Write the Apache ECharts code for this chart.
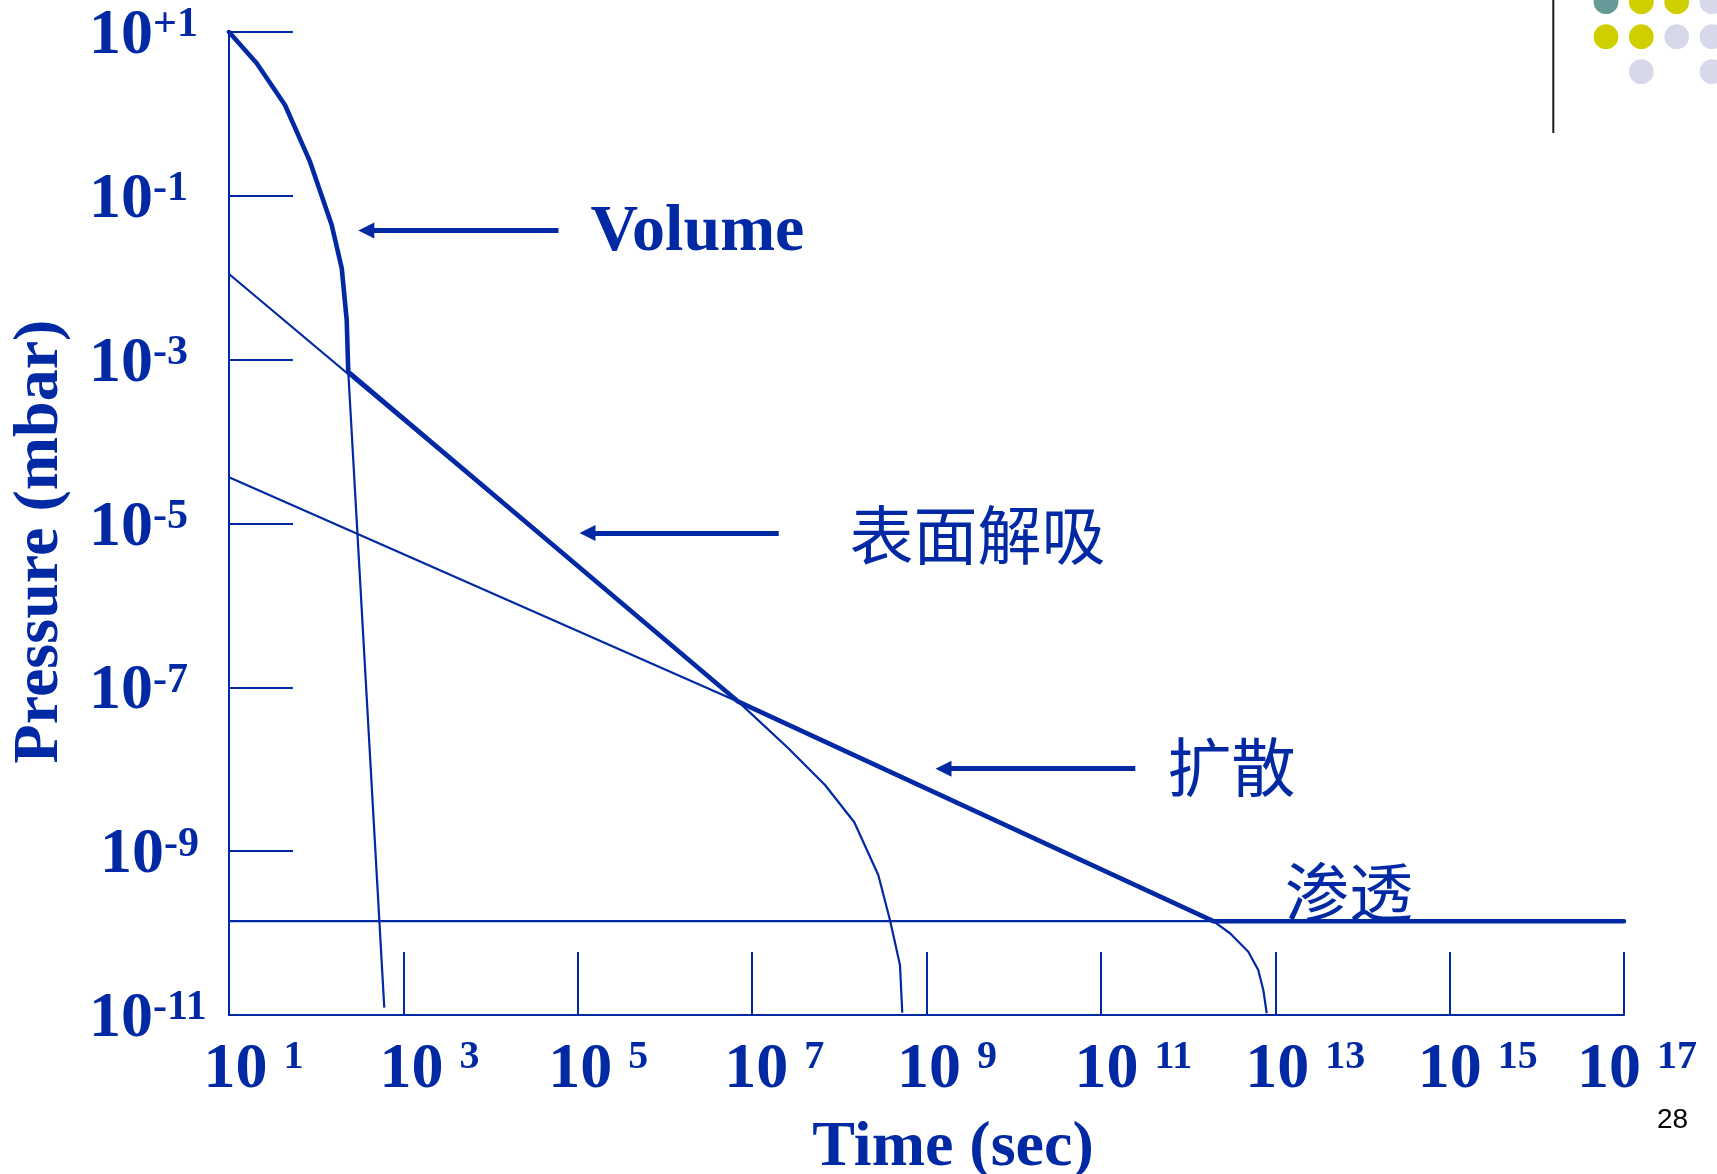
<!DOCTYPE html>
<html>
<head>
<meta charset="utf-8">
<title>Pump-down curve</title>
<script src="https://cdn.jsdelivr.net/npm/echarts@6.0.0/dist/echarts.min.js"></script>
<style>
  html, body { margin: 0; padding: 0; background: #ffffff; }
  #chart { width: 1717px; height: 1174px; }
</style>
</head>
<body>
<div id="chart"></div>
<script>
// Pump-down curve on log-log scales. Both axes are expressed in decades (log10 of the value):
// time in seconds, pressure in mbar.

// axis ticks (exponents of ten)
const xTickExp = [1, 3, 5, 7, 9, 11, 13, 15, 17];
const yTickExp = [1, -1, -3, -5, -7, -9, -11];

// gas from the chamber volume
const volumeLogT = [1, 1.318, 1.642, 1.929, 2.178, 2.293, 2.350, 2.368, 2.781];
const volumeLogP = [1, 0.618, 0.109, -0.583, -1.356, -1.885, -2.516, -3.147, -10.910];

// surface desorption
const desorptionLogT = [1, 6.841, 7.415, 7.836, 8.172, 8.447, 8.581, 8.696, 8.722];
const desorptionLogP = [-1.954, -7.175, -7.744, -8.192, -8.647, -9.291, -9.840, -10.389, -10.972];

// diffusion out of the walls
const diffusionLogT = [1, 6.841, 12.289, 12.481, 12.691, 12.805, 12.863, 12.902];
const diffusionLogP = [-4.436, -7.175, -9.855, -10.002, -10.227, -10.450, -10.694, -10.979];

// permeation floor
const permeationLogT = [1, 17];
const permeationLogP = [-9.855, -9.855];

// total pressure (dominant process at each time)
const totalLogT = [1, 1.318, 1.642, 1.929, 2.178, 2.293, 2.350, 2.368, 6.841, 12.289, 17];
const totalLogP = [1, 0.618, 0.109, -0.583, -1.356, -1.885, -2.516, -3.147, -7.175, -9.855, -9.855];

// annotation texts and where they sit (decades)
const noteTexts = ['Volume', '表面解吸', '扩散', '渗透'];
const noteLogT = [5.146, 8.117, 11.764, 13.111];
const noteLogP = [-1.452, -5.134, -7.972, -9.492];

// pointer arrows: tip time, tail time, pressure (decades)
const arrowTipLogT = [2.575, 5.112, 9.195];
const arrowTailLogT = [4.779, 7.305, 11.395];
const arrowLogP = [-1.423, -5.116, -7.993];

const BLUE = '#0029A3';
const SERIF = '"Liberation Serif", "Times New Roman", serif';
const CJK = '"Noto Sans CJK SC", "Noto Sans CJK TC", sans-serif';

const pairs = (xs, ys) => xs.map((x, i) => [x, ys[i]]);

// left padding that puts the "10" of each time label over its tick
const xPad = {1: 49, 3: 52, 5: 41, 7: 44, 9: 41, 11: 65, 13: 60, 15: 56, 17: 26};
const xRich = {
  b: { fontFamily: SERIF, fontSize: 64, fontWeight: 'bold', color: BLUE, lineHeight: 64 },
  s: { fontFamily: SERIF, fontSize: 40, fontWeight: 'bold', color: BLUE, lineHeight: 40, verticalAlign: 'top' }
};
Object.keys(xPad).forEach(k => { xRich['p' + k] = { width: xPad[k], lineHeight: 64 }; });

const yRich = {
  b: { fontFamily: SERIF, fontSize: 64, fontWeight: 'bold', color: BLUE, lineHeight: 64 },
  s: { fontFamily: SERIF, fontSize: 42, fontWeight: 'bold', color: BLUE, lineHeight: 42, verticalAlign: 'top' },
  p: { width: 11, lineHeight: 64 }
};

function thinLine(name, xs, ys) {
  return {
    type: 'line', name: name, data: pairs(xs, ys),
    symbol: 'none', silent: true, z: 2,
    lineStyle: { color: BLUE, width: 2.2 }
  };
}

// slide decoration in the top-right corner
const dotCols = [1606, 1641.3, 1676.7, 1712];
const dotRows = [1.7, 36.7, 71.7];
const dotLayout = [
  ['#659a98', '#cfcf00', '#cfcf00', '#d8d8eb'],
  ['#cfcf00', '#cfcf00', '#d8d8eb', '#d8d8eb'],
  [null, '#d8d8eb', null, '#d8d8eb']
];
const decor = [
  { type: 'line', silent: true, shape: { x1: 1553.3, y1: 0, x2: 1553.3, y2: 133 },
    style: { stroke: '#1a1a1a', lineWidth: 2 } },
  { type: 'text', silent: true, x: 1657, y: 1120,
    style: { text: '28', fontFamily: '"Liberation Sans", Arial, sans-serif', fontSize: 28,
             fill: '#000000', align: 'left', verticalAlign: 'middle' } }
];
dotLayout.forEach((row, r) => row.forEach((c, k) => {
  if (c) decor.push({ type: 'circle', silent: true,
    shape: { cx: dotCols[k], cy: dotRows[r], r: 12.4 }, style: { fill: c } });
}));

const chart = echarts.init(document.getElementById('chart'), null, { renderer: 'canvas' });

chart.setOption({
  animation: false,
  backgroundColor: '#ffffff',
  grid: { left: 229, top: 32, right: 93, bottom: 159, outerBoundsMode: 'none' },
  xAxis: {
    type: 'value', min: 1, max: 17, position: 'bottom',
    name: 'Time (sec)', nameLocation: 'middle', nameGap: 101, nameMoveOverlap: false,
    nameTextStyle: { color: BLUE, fontFamily: SERIF, fontSize: 64, fontWeight: 'bold',
                     lineHeight: 64, padding: [0, 0, 0, 53] },
    axisLine: { show: true, onZero: false, lineStyle: { color: BLUE, width: 2 } },
    axisTick: { show: true, inside: true, length: 63, customValues: xTickExp,
                lineStyle: { color: BLUE, width: 2 } },
    axisLabel: {
      show: true, customValues: xTickExp, margin: 23,
      formatter: v => '{p' + v + '| }{b|10 }{s|' + v + '}',
      rich: xRich
    },
    splitLine: { show: false }
  },
  yAxis: {
    type: 'value', min: -11, max: 1,
    name: 'Pressure (mbar)', nameLocation: 'middle', nameGap: 157, nameRotate: 90, nameMoveOverlap: false,
    nameTextStyle: { color: BLUE, fontFamily: SERIF, fontSize: 64, fontWeight: 'bold',
                     lineHeight: 64, padding: [0, 36, 0, 0] },
    axisLine: { show: true, onZero: false, lineStyle: { color: BLUE, width: 2 } },
    axisTick: { show: true, inside: true, length: 64, customValues: yTickExp,
                lineStyle: { color: BLUE, width: 2 } },
    axisLabel: {
      show: true, customValues: yTickExp, margin: 140, align: 'left', padding: [9, 0, 0, 0],
      formatter: v => (v === -9 ? '{p| }' : '') + '{b|10}{s|' + (v > 0 ? '+' + v : String(v)) + '}',
      rich: yRich
    },
    splitLine: { show: false }
  },
  series: [
    thinLine('Volume', volumeLogT, volumeLogP),
    thinLine('表面解吸', desorptionLogT, desorptionLogP),
    thinLine('扩散', diffusionLogT, diffusionLogP),
    thinLine('渗透', permeationLogT, permeationLogP),
    {
      type: 'line', name: 'Total', data: pairs(totalLogT, totalLogP),
      symbol: 'none', silent: true, z: 3,
      lineStyle: { color: BLUE, width: 4.6, cap: 'round', join: 'round' },
      markLine: {
        silent: true, animation: false, precision: 6,
        symbol: ['triangle', 'none'], symbolSize: [16, 16],
        lineStyle: { color: BLUE, width: 5, type: 'solid' },
        itemStyle: { color: BLUE },
        label: { show: false },
        emphasis: { disabled: true },
        data: arrowLogP.map((p, i) => [
          { coord: [arrowTipLogT[i], p] },
          { coord: [arrowTailLogT[i], p] }
        ])
      },
      markPoint: {
        silent: true, animation: false,
        symbol: 'circle', symbolSize: 0,
        itemStyle: { color: 'rgba(0,0,0,0)' },
        label: { show: true, position: 'right', distance: 0, formatter: '{b}', color: BLUE },
        data: noteTexts.map((t, i) => ({
          name: t,
          coord: [noteLogT[i], noteLogP[i]],
          label: i === 0
            ? { fontFamily: SERIF, fontSize: 66, fontWeight: 'bold', color: BLUE }
            : { fontFamily: CJK, fontSize: 64, fontWeight: 'normal', color: BLUE }
        }))
      }
    }
  ],
  graphic: decor
});
</script>
</body>
</html>
